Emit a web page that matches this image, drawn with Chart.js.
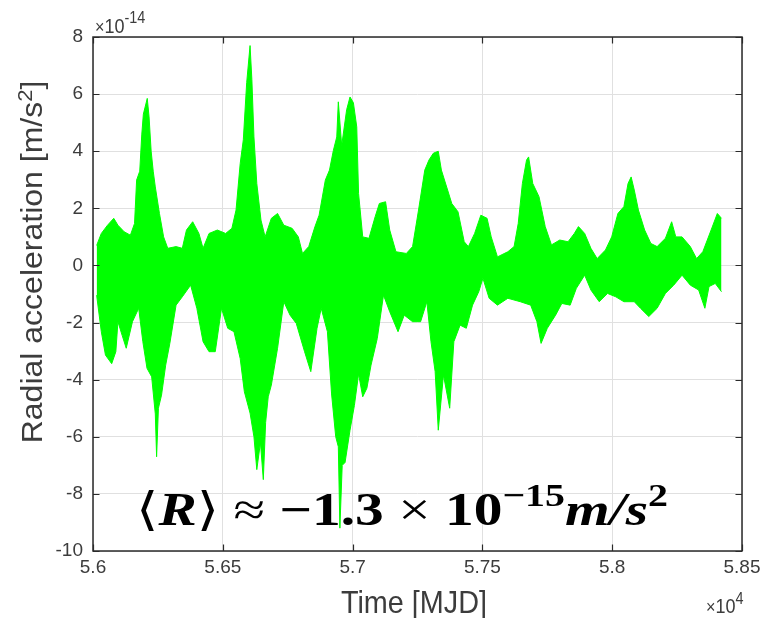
<!DOCTYPE html>
<html>
<head>
<meta charset="utf-8">
<script src="https://cdn.jsdelivr.net/npm/chart.js@4.4.1/dist/chart.umd.min.js"></script>
<style>
    html, body { margin: 0; padding: 0; background: #fff; }
    #wrap { width: 766px; height: 618px; }
</style>
</head>
<body>
<div id="wrap"><canvas id="accChart" width="766" height="618"></canvas></div>
<script>
// Radial acceleration, read as upper / lower envelope of the dense signal
// values in units of 1e-14 m/s^2, time in MJD
var upperMjd = [56014, 56032, 56056, 56080, 56096, 56120, 56144, 56160, 56168, 56180,
    56188, 56194, 56209, 56216, 56224, 56232, 56240, 56256, 56272, 56288,
    56320, 56344, 56360, 56384, 56408, 56424, 56447, 56479, 56511, 56535,
    56551, 56567, 56579, 56592, 56605, 56612, 56620, 56631, 56647, 56663,
    56687, 56711, 56735, 56767, 56791, 56807, 56831, 56855, 56871, 56895,
    56911, 56926, 56939, 56945, 56958, 56977, 56990, 57003, 57016, 57023,
    57039, 57063, 57087, 57103, 57127, 57143, 57167, 57207, 57231, 57254,
    57278, 57294, 57311, 57330, 57342, 57366, 57382, 57406, 57430, 57446,
    57470, 57494, 57518, 57534, 57558, 57598, 57622, 57638, 57654, 57670,
    57678, 57694, 57718, 57742, 57766, 57798, 57830, 57854, 57870, 57894,
    57918, 57942, 57974, 57998, 58022, 58045, 58061, 58073, 58085, 58101,
    58125, 58149, 58173, 58205, 58229, 58245, 58269, 58301, 58325, 58349,
    58381, 58405, 58421];
var upperAcc = [0.7, 1.12, 1.41, 1.65, 1.41, 1.18, 1.06, 1.47, 2.99, 3.3,
    4.6, 5.3, 5.85, 5.2, 4.0, 3.3, 2.75, 1.82, 1.0, 0.6,
    0.66, 0.6, 1.24, 1.53, 1.12, 0.6, 1.12, 1.24, 1.12, 1.3,
    1.94, 3.57, 4.4, 6.4, 7.7, 6.5, 4.5, 2.87, 1.59, 1.0,
    1.65, 1.82, 1.41, 1.3, 1.0, 0.42, 0.66, 1.36, 1.76, 2.99,
    3.34, 4.03, 4.5, 5.73, 4.2, 5.45, 5.9, 5.7, 4.85, 2.52,
    1.0, 0.95, 1.71, 2.17, 2.23, 1.24, 0.48, 0.42, 0.66, 1.94,
    3.34, 3.69, 3.93, 4.0, 3.34, 2.64, 2.17, 1.88, 0.83, 0.66,
    1.12, 1.76, 1.65, 1.0, 0.3, 0.48, 0.66, 1.47, 2.87, 3.69,
    3.8, 2.87, 2.41, 1.36, 0.72, 0.89, 0.83, 1.12, 1.36, 1.12,
    0.6, 0.24, 0.54, 1.0, 1.82, 2.06, 2.87, 3.1, 2.64, 1.94,
    1.24, 0.77, 0.66, 0.95, 1.53, 1.0, 1.0, 0.66, 0.24, 0.48,
    1.24, 1.82, 1.65];
var lowerMjd = [56014, 56032, 56048, 56072, 56088, 56096, 56112, 56128, 56152, 56176,
    56192, 56208, 56226, 56240, 56245, 56252, 56264, 56280, 56296, 56320,
    56344, 56376, 56400, 56424, 56447, 56471, 56495, 56519, 56543, 56567,
    56583, 56605, 56620, 56631, 56645, 56656, 56665, 56675, 56687, 56711,
    56735, 56759, 56783, 56815, 56839, 56863, 56879, 56903, 56919, 56935,
    56945, 56951, 56960, 56971, 56990, 57007, 57023, 57039, 57055, 57071,
    57095, 57119, 57143, 57175, 57199, 57231, 57262, 57286, 57302, 57318,
    57330, 57350, 57374, 57390, 57414, 57438, 57462, 57486, 57502, 57526,
    57558, 57598, 57646, 57686, 57710, 57726, 57750, 57782, 57806, 57838,
    57862, 57894, 57918, 57950, 57982, 58014, 58045, 58085, 58109, 58141,
    58173, 58205, 58237, 58269, 58301, 58333, 58357, 58373, 58397, 58421];
var lowerAcc = [-1.04, -2.32, -3.14, -3.44, -3.02, -1.97, -2.44, -2.9, -1.97, -1.5,
    -2.67, -3.6, -3.9, -5.2, -6.7, -5.0, -4.54, -3.49, -2.73, -1.39,
    -1.1, -0.69, -1.5, -2.67, -3.02, -3.02, -1.5, -2.2, -2.32, -3.26,
    -4.42, -5.17, -6.0, -7.15, -6.2, -7.5, -5.5, -4.6, -4.19, -2.9,
    -1.27, -1.74, -2.03, -3.02, -3.72, -2.2, -1.5, -2.32, -4.5, -6.0,
    -6.35, -9.2, -7.0, -6.9, -5.77, -4.9, -3.8, -4.6, -4.3, -3.49,
    -2.56, -1.04, -1.62, -2.32, -1.74, -1.97, -1.97, -1.27, -2.67, -3.72,
    -5.77, -3.84, -5.0, -2.67, -2.09, -2.2, -1.39, -0.92, -0.45, -1.15,
    -1.39, -1.15, -1.27, -1.39, -1.97, -2.73, -2.2, -1.74, -1.33, -1.39,
    -0.8, -0.34, -0.86, -1.27, -0.98, -1.1, -1.27, -1.27, -1.5, -1.79,
    -1.5, -0.98, -0.69, -0.34, -0.69, -0.86, -1.5, -0.74, -0.63, -0.92];

var textColor = '#3c3c3c';
var sansFam = "'Liberation Sans', Arial, sans-serif";
var serifFam = "'Liberation Serif', 'DejaVu Serif', serif";

function toPoints(xs, ys) {
    return xs.map(function (x, i) { return { x: x, y: ys[i] }; });
}

// draw a run of text pieces (for superscripts) with horizontal squeeze
function drawParts(ctx, parts, x, y, align, sx, sy, rot, fitWidth) {
    var w = 0;
    parts.forEach(function (p) {
        ctx.font = p.font;
        p.w = ctx.measureText(p.text).width;
        w += p.w;
    });
    if (fitWidth) sx = fitWidth / w;
    ctx.save();
    ctx.translate(x, y);
    if (rot) ctx.rotate(rot);
    ctx.scale(sx, sy);
    var cx = align === 'center' ? -w / 2 : (align === 'right' ? -w : 0);
    ctx.textBaseline = 'alphabetic';
    ctx.textAlign = 'left';
    parts.forEach(function (p) {
        ctx.font = p.font;
        ctx.fillStyle = p.color || textColor;
        ctx.fillText(p.text, cx, -(p.rise || 0));
        cx += p.w;
    });
    ctx.restore();
}

var matlabFrame = {
    id: 'matlabFrame',
    afterDraw: function (chart) {
        var ctx = chart.ctx;
        var a = chart.chartArea;
        var xs = chart.scales.x, ys = chart.scales.y;
        ctx.save();
        // box
        ctx.strokeStyle = '#2a2a2a';
        ctx.lineWidth = 1.5;
        ctx.strokeRect(a.left, a.top, a.right - a.left, a.bottom - a.top);
        // inward ticks
        ctx.lineWidth = 1.2;
        ctx.beginPath();
        xs.ticks.forEach(function (t) {
            var px = Math.round(xs.getPixelForValue(t.value)) + 0.5;
            ctx.moveTo(px, a.bottom); ctx.lineTo(px, a.bottom - 6.5);
            ctx.moveTo(px, a.top); ctx.lineTo(px, a.top + 6.5);
        });
        ys.ticks.forEach(function (t) {
            var py = Math.round(ys.getPixelForValue(t.value)) + 0.5;
            ctx.moveTo(a.left, py); ctx.lineTo(a.left + 6.5, py);
            ctx.moveTo(a.right, py); ctx.lineTo(a.right - 6.5, py);
        });
        ctx.stroke();
        ctx.restore();

        // exponent labels
        drawParts(ctx, [
            { text: '\u00d7', font: '18px ' + sansFam },
            { text: '10', font: '20px ' + sansFam },
            { text: '-14', font: '16px ' + sansFam, rise: 10 }
        ], 95, 33, 'left', 0.9, 1);
        drawParts(ctx, [
            { text: '\u00d7', font: '18px ' + sansFam },
            { text: '10', font: '20px ' + sansFam },
            { text: '4', font: '16px ' + sansFam, rise: 9 }
        ], 706, 613, 'left', 0.9, 1);

        // axis titles
        drawParts(ctx, [
            { text: 'Time [MJD]', font: '32px ' + sansFam }
        ], 414, 613, 'center', 0.9, 1);
        drawParts(ctx, [
            { text: 'Radial acceleration [m/s', font: '32px ' + sansFam },
            { text: '2', font: '22px ' + sansFam, rise: 11 },
            { text: ']', font: '32px ' + sansFam }
        ], 42, 262, 'center', 1, 0.9, -Math.PI / 2);

        // mean value annotation
        drawParts(ctx, [
            { text: '\u27e8', font: '46px ' + serifFam, color: '#000' },
            { text: 'R', font: 'italic bold 46px ' + serifFam, color: '#000' },
            { text: '\u27e9', font: '46px ' + serifFam, color: '#000' },
            { text: ' \u2248 ', font: '46px ' + serifFam, color: '#000' },
            { text: '\u22121.3', font: 'bold 46px ' + serifFam, color: '#000' },
            { text: ' \u00d7 ', font: '46px ' + serifFam, color: '#000' },
            { text: '10', font: 'bold 46px ' + serifFam, color: '#000' },
            { text: '\u221215', font: 'bold 32px ' + serifFam, color: '#000', rise: 19 },
            { text: 'm/s', font: 'italic bold 46px ' + serifFam, color: '#000' },
            { text: '2', font: 'bold 32px ' + serifFam, color: '#000', rise: 19 }
        ], 136, 525, 'left', 1, 1, 0, 532);
    }
};

new Chart(document.getElementById('accChart').getContext('2d'), {
    type: 'line',
    data: {
        datasets: [{
            label: 'upper',
            data: toPoints(upperMjd, upperAcc),
            borderColor: '#00ff00',
            backgroundColor: '#00ff00',
            borderWidth: 1,
            pointRadius: 0,
            tension: 0,
            fill: '+1'
        }, {
            label: 'lower',
            data: toPoints(lowerMjd, lowerAcc),
            borderColor: '#00ff00',
            backgroundColor: '#00ff00',
            borderWidth: 1,
            pointRadius: 0,
            tension: 0,
            fill: false
        }]
    },
    options: {
        responsive: false,
        animation: false,
        parsing: false,
        layout: { padding: { top: 37, right: 24, left: 0, bottom: 0 } },
        plugins: {
            legend: { display: false },
            tooltip: { enabled: false }
        },
        scales: {
            x: {
                type: 'linear',
                min: 56000,
                max: 58500,
                offset: false,
                border: { display: false },
                grid: { color: '#e0e0e0', lineWidth: 1, drawTicks: false },
                ticks: {
                    stepSize: 500,
                    padding: 5,
                    color: textColor,
                    maxRotation: 0,
                    font: { family: sansFam, size: 19 },
                    callback: function (v) { return (v / 10000).toString(); }
                },
                afterFit: function (scale) { scale.height = 67; }
            },
            y: {
                min: -10,
                max: 8,
                border: { display: false },
                grid: { color: '#e0e0e0', lineWidth: 1, drawTicks: false },
                ticks: {
                    stepSize: 2,
                    padding: 10,
                    color: textColor,
                    font: { family: sansFam, size: 19 }
                },
                afterFit: function (scale) { scale.width = 93; }
            }
        }
    },
    plugins: [matlabFrame]
});
</script>
</body>
</html>
